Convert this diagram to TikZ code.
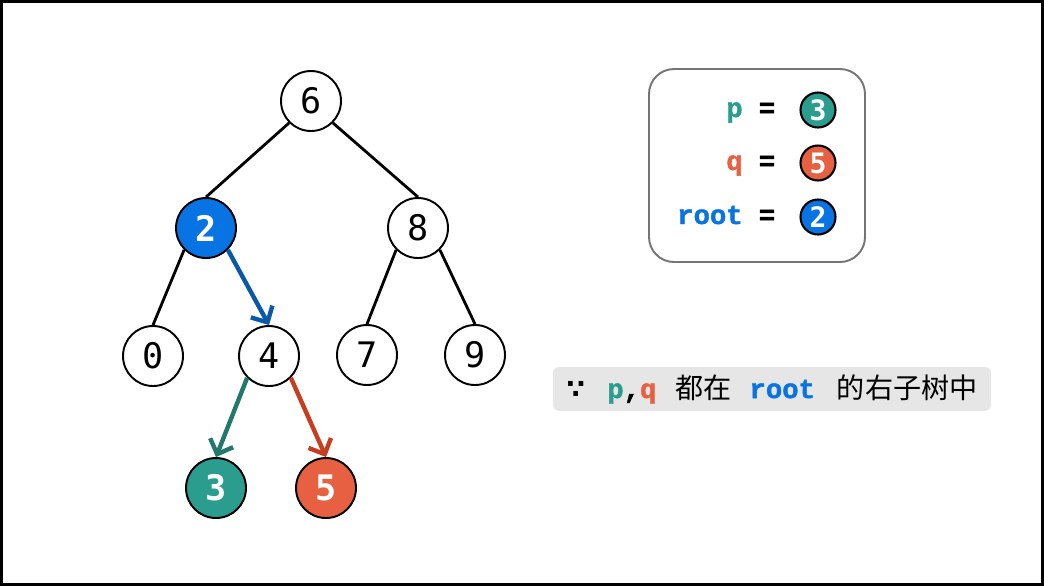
\documentclass[tikz,border=0pt]{standalone}
\usepackage{fontspec}
\usepackage{tikz}
\usetikzlibrary{arrows.meta}
\newfontfamily\monofont{DejaVu Sans Mono}
\newfontfamily\codefont[BoldFeatures={FakeBold=1.5}]{Liberation Mono}
\newfontfamily\cjk{Noto Sans CJK SC}
\newfontfamily\symfont{DejaVu Sans}
\definecolor{rootBlue}{HTML}{0873E3}
\definecolor{pTeal}{HTML}{2A9D8F}
\definecolor{qRed}{HTML}{E76041}
\definecolor{walkBlue}{HTML}{0A58A8}
\definecolor{walkTeal}{HTML}{22786B}
\definecolor{walkRed}{HTML}{C63D1F}
\definecolor{boxGray}{HTML}{757575}
\definecolor{hintGray}{HTML}{E6E6E6}

\tikzset{
  treenode/.style={circle, draw=black, line width=1.1pt, minimum size=1.2cm, inner sep=0pt, fill=white,
    font=\monofont\fontsize{20}{24}\selectfont},
  hotnode/.style={treenode, text=white, font=\monofont\bfseries\fontsize{20}{24}\selectfont},
  tinynode/.style={circle, draw=black, line width=1.2pt, minimum size=0.7cm, inner sep=0pt, text=white,
    font=\monofont\bfseries\fontsize{16}{18}\selectfont},
  treeedge/.style={line width=1.6pt},
  walk/.style={line width=2.5pt, -{Straight Barb[length=7pt,width=14pt]}},
  codetext/.style={inner sep=0pt, font=\codefont\bfseries\fontsize{15.5}{18}\selectfont},
}

\begin{document}
\begin{tikzpicture}[x=0.02cm,y=-0.02cm]
  \useasboundingbox (0,0) rectangle (1044,586);
  \draw[line width=0.06cm] (1.5,1.5) rectangle (1042.5,584.5);

  % tree
  \node[treenode] (n6) at (311,101) {6};
  \node[hotnode, fill=rootBlue] (n2) at (206,228) {2};
  \node[treenode] (n8) at (418,228) {8};
  \node[treenode] (n0) at (153,356) {0};
  \node[treenode] (n4) at (269,356) {4};
  \node[treenode] (n7) at (367,355) {7};
  \node[treenode] (n9) at (475,355) {9};
  \node[hotnode, fill=pTeal] (n3) at (216,488) {3};
  \node[hotnode, fill=qRed] (n5) at (326,488) {5};

  \draw[treeedge] (n6.-135) -- (n2.north);
  \draw[treeedge] (n6.-45) -- (n8.north);
  \draw[treeedge] (n2.-135) -- (n0.north);
  \draw[treeedge] (n8.-135) -- (n7.north);
  \draw[treeedge] (n8.-45) -- (n9.north);
  \draw[walk, walkBlue] (n2.-45) -- (n4.north);
  \draw[walk, walkTeal] (n4.-135) -- (n3.north);
  \draw[walk, walkRed] (n4.-45) -- (n5.north);

  % legend
  \draw[boxGray, line width=1.1pt, rounded corners=0.5cm] (649,69) rectangle (865,262);
  \node[codetext, text=pTeal, anchor=base east] (lp) at (743,117) {p};
  \node[codetext, text=qRed, anchor=base east] (lq) at (743,170) {q};
  \node[codetext, text=rootBlue, anchor=base east] (lroot) at (743,224) {root};
  \node[codetext, anchor=base] (eqp) at (767,117) {=};
  \node[codetext, anchor=base] (eqq) at (767,170) {=};
  \node[codetext, anchor=base] (eqroot) at (767,224) {=};
  \node[tinynode, fill=pTeal] (vp) at (818,110) {3};
  \node[tinynode, fill=qRed] (vq) at (818,163) {5};
  \node[tinynode, fill=rootBlue] (vroot) at (818,217) {2};

  % hint
  \node[fill=hintGray, rounded corners=0.12cm, minimum width=8.76cm, minimum height=0.88cm, inner sep=0pt] (hint) at (772,389)
    {{\symfont\bfseries\fontsize{15}{18}\selectfont ∵}\hspace{0.45cm}{\codefont\bfseries\fontsize{15.5}{18}\selectfont\textcolor{pTeal}{p},\textcolor{qRed}{q}}\hspace{0.38cm}{\cjk\fontsize{16}{18}\selectfont 都在}\hspace{0.36cm}{\codefont\bfseries\fontsize{15.5}{18}\selectfont\textcolor{rootBlue}{root}}\hspace{0.44cm}{\cjk\fontsize{16}{18}\selectfont 的右子树中}};
\end{tikzpicture}
\end{document}
